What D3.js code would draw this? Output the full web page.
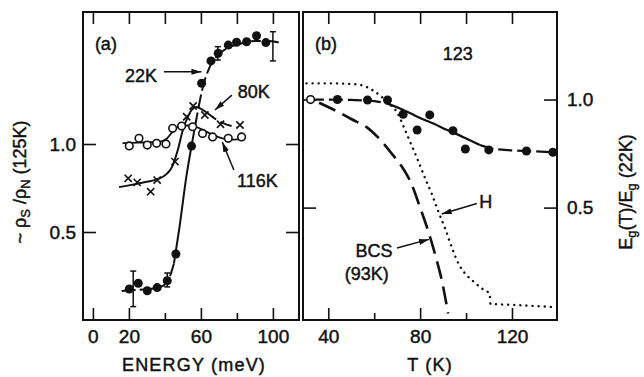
<!DOCTYPE html>
<html>
<head>
<meta charset="utf-8">
<script src="https://cdn.jsdelivr.net/npm/d3@7"></script>
<style>
  body { margin: 0; background: #fff; }
  text { font-family: "Liberation Sans", Arial, sans-serif; fill: #111; stroke: #111; stroke-width: 0.45px; }
</style>
</head>
<body>
<svg id="chart" width="644" height="377"></svg>
<script>
// ---- panel (a): rho_s / rho_n vs energy ----
const a22E = [20.2, 25.2, 30.2, 35.7, 41.3, 46.1, 54.8, 60.4, 65.6, 69.6, 75.2, 79.8, 85.4, 90.9, 96.1];
const a22V = [0.176, 0.209, 0.166, 0.184, 0.223, 0.375, 0.988, 1.345, 1.472, 1.515, 1.562, 1.578, 1.581, 1.615, 1.576];
const a80E = [19.6, 24.6, 32.1, 35.7, 45.6, 52.1, 55.7, 62.2, 70.9, 81.7];
const a80V = [0.805, 0.782, 0.729, 0.795, 0.9, 1.155, 1.216, 1.165, 1.112, 1.108];
const a116E = [20.2, 25.6, 30.2, 35.4, 40.6, 44.3, 49.3, 55.4, 60.9, 66.5, 75.2, 82.6];
const a116V = [0.989, 1.032, 0.994, 1.004, 1.0, 1.089, 1.102, 1.098, 1.06, 1.04, 1.032, 1.04];

// guide curves drawn through the data
const c22E = [16, 22, 30, 38, 42, 45, 48, 52, 55, 58, 61, 65, 70, 76, 82, 90, 97, 104];
const c22V = [0.165, 0.17, 0.175, 0.19, 0.23, 0.32, 0.52, 0.82, 1.0, 1.17, 1.32, 1.44, 1.51, 1.55, 1.57, 1.585, 1.585, 1.575];
const c80E = [14.5, 20, 25, 30, 36, 41, 44, 47, 50, 53, 55, 57.5, 60, 63, 67, 72, 80];
const c80V = [0.755, 0.765, 0.775, 0.785, 0.8, 0.83, 0.87, 0.96, 1.08, 1.16, 1.195, 1.21, 1.2, 1.18, 1.15, 1.12, 1.095];
const c116E = [16.5, 25, 32, 38, 41, 43.5, 46, 50, 55, 59, 63, 67, 71, 76, 82.5];
const c116V = [1.005, 1.008, 1.01, 1.015, 1.03, 1.06, 1.09, 1.105, 1.105, 1.09, 1.07, 1.05, 1.035, 1.025, 1.028];

// error bars
const errE = [22.4, 41.3, 69.4, 100];
const errLo = [0.076, 0.188, 1.477, 1.472];
const errHi = [0.278, 0.267, 1.553, 1.638];

const aTicks = [0, 20, 40, 60, 80, 100];
const aTickLabels = [0, 20, 60, 100];
const aYTicks = [0.5, 1.0];

// ---- panel (b): Eg(T)/Eg(22K) vs T ----
const bOpenT = [32.3];
const bOpenV = [1.0];
const bT = [44, 57.1, 65.8, 72.6, 78.7, 84.2, 94.3, 99.7, 109.9, 126.3, 137.8];
const bV = [1.0, 0.998, 0.998, 0.932, 0.859, 0.929, 0.856, 0.771, 0.767, 0.762, 0.756];
const fitT = [32, 40, 50, 60, 66, 71, 76, 81, 86, 91, 96, 101, 106, 112, 120, 130, 138];
const fitV = [1.0, 1.0, 0.998, 0.993, 0.98, 0.96, 0.935, 0.91, 0.888, 0.862, 0.84, 0.815, 0.79, 0.772, 0.765, 0.76, 0.756];
const bcsT = [36, 42, 50, 57, 63, 68, 72, 76, 80, 84, 87, 89.5, 92.2];
const bcsV = [0.985, 0.955, 0.91, 0.87, 0.81, 0.745, 0.69, 0.615, 0.5, 0.375, 0.265, 0.16, 0.01];
const hT = [30.5, 40, 50, 55, 59, 63, 66, 70, 73, 76, 79, 82, 85, 88, 91, 94, 97, 100, 103, 107, 110.3, 110.6, 124, 138];
const hV = [1.075, 1.075, 1.072, 1.065, 1.045, 1.015, 0.985, 0.94, 0.87, 0.795, 0.72, 0.64, 0.565, 0.48, 0.4, 0.31, 0.235, 0.19, 0.16, 0.125, 0.1, 0.055, 0.048, 0.04];

const bTicks = [40, 60, 80, 100, 120];
const bTickLabels = [40, 80, 120];
const bYTicks = [0.5, 1.0];

const svg = d3.select('#chart');
svg.append('rect').attr('width', 644).attr('height', 377).attr('fill', '#fff');

const xA = d3.scaleLinear().domain([-5.5, 114.5]).range([83, 299]);
const yA = d3.scaleLinear().domain([0, 1.75]).range([320, 12]);
const xB = d3.scaleLinear().domain([29, 139.6]).range([303, 557]);
const yB = d3.scaleLinear().domain([-0.02, 1.405]).range([320, 12]);

svg.append('defs').append('marker')
    .attr('id', 'arrow')
    .attr('viewBox', '0 0 10 6')
    .attr('refX', 10).attr('refY', 3)
    .attr('markerWidth', 10).attr('markerHeight', 6)
    .attr('markerUnits', 'userSpaceOnUse')
    .attr('orient', 'auto')
    .append('path').attr('d', 'M0,0L10,3L0,6Z').attr('fill', '#111');

function styleAxis(g) {
  g.select('.domain').remove();
  g.attr('font-family', '"Liberation Sans", Arial, sans-serif').attr('font-size', 19);
  g.selectAll('.tick line').attr('stroke', '#111').attr('stroke-width', 1.6);
  g.selectAll('.tick text').attr('fill', '#111');
}

function drawFrame(x, y, ticksX, labelsX, ticksY, labelSide) {
  const [x0, x1] = x.range();
  const [y0, y1] = y.range();

  svg.append('g').attr('transform', `translate(0,${y0})`)
      .call(d3.axisBottom(x).tickValues(ticksX).tickSizeInner(-12).tickSizeOuter(0).tickPadding(10)
          .tickFormat(d => labelsX.includes(d) ? d : ''))
      .call(styleAxis)
      .call(g => g.selectAll('.tick line').attr('y2', d => labelsX.includes(d) ? -12 : -7));

  svg.append('g').attr('transform', `translate(0,${y1})`)
      .call(d3.axisTop(x).tickValues(ticksX).tickSizeInner(-12).tickSizeOuter(0).tickFormat(''))
      .call(styleAxis);

  svg.append('g').attr('transform', `translate(${x0},0)`)
      .call(d3.axisLeft(y).tickValues(ticksY).tickSizeInner(-13).tickSizeOuter(0).tickPadding(7)
          .tickFormat(labelSide === 'left' ? d3.format('.1f') : ''))
      .call(styleAxis);

  svg.append('g').attr('transform', `translate(${x1},0)`)
      .call(d3.axisRight(y).tickValues(ticksY).tickSizeInner(-13).tickSizeOuter(0).tickPadding(10)
          .tickFormat(labelSide === 'right' ? d3.format('.1f') : ''))
      .call(styleAxis);

  svg.append('rect')
      .attr('x', x0).attr('y', y1)
      .attr('width', x1 - x0).attr('height', y0 - y1)
      .attr('fill', 'none').attr('stroke', '#111').attr('stroke-width', 2);
}

drawFrame(xA, yA, aTicks, aTickLabels, aYTicks, 'left');
drawFrame(xB, yB, bTicks, bTickLabels, bYTicks, 'right');

function curve(x, y, xs, ys, dash, width) {
  const line = d3.line().x(d => x(d[0])).y(d => y(d[1])).curve(d3.curveMonotoneX);
  svg.append('path')
      .datum(d3.zip(xs, ys))
      .attr('fill', 'none')
      .attr('stroke', '#111')
      .attr('stroke-width', width || 2)
      .attr('stroke-dasharray', dash)
      .attr('stroke-linecap', dash && dash.startsWith('0') ? 'round' : 'butt')
      .attr('d', line);
}

function part(xs, ys, lo, hi) {
  const idx = xs.map((v, i) => i).filter(i => xs[i] >= lo && xs[i] <= hi);
  return [idx.map(i => xs[i]), idx.map(i => ys[i])];
}

// panel (a) curves
curve(xA, yA, ...part(c22E, c22V, 0, 45), '14,4', 2);
curve(xA, yA, ...part(c22E, c22V, 45, 55), null, 2);
curve(xA, yA, ...part(c22E, c22V, 55, 200), '14,4', 2);
curve(xA, yA, ...part(c80E, c80V, 0, 63), null, 2);
curve(xA, yA, ...part(c80E, c80V, 63, 200), '12,5', 2);
curve(xA, yA, c116E, c116V, null, 1.8);

// panel (b) curves
curve(xB, yB, ...part(fitT, fitV, 0, 66), '14,5', 2.2);
curve(xB, yB, ...part(fitT, fitV, 66, 106), null, 2.2);
curve(xB, yB, ...part(fitT, fitV, 106, 200), '14,5', 2.2);
curve(xB, yB, bcsT, bcsV, '18,8', 2.6);
curve(xB, yB, hT, hV, '0.1,6', 2.4);

// error bars
const eb = svg.append('g').attr('stroke', '#111').attr('stroke-width', 1.5);
errE.forEach((e, i) => {
  const x = xA(e);
  eb.append('line').attr('x1', x).attr('x2', x).attr('y1', yA(errLo[i])).attr('y2', yA(errHi[i]));
  [errLo[i], errHi[i]].forEach(v => {
    eb.append('line').attr('x1', x - 3).attr('x2', x + 3).attr('y1', yA(v)).attr('y2', yA(v));
  });
});

// markers
function dots(x, y, xs, ys, open) {
  svg.append('g').selectAll('circle')
      .data(d3.zip(xs, ys))
      .join('circle')
      .attr('cx', d => x(d[0]))
      .attr('cy', d => y(d[1]))
      .attr('r', open ? 3.8 : 4.5)
      .attr('fill', open ? '#fff' : '#111')
      .attr('stroke', '#111')
      .attr('stroke-width', open ? 1.6 : 0);
}

function crosses(x, y, xs, ys) {
  const s = 3.6;
  svg.append('g').selectAll('path')
      .data(d3.zip(xs, ys))
      .join('path')
      .attr('d', d => {
        const cx = x(d[0]), cy = y(d[1]);
        return `M${cx - s},${cy - s}L${cx + s},${cy + s}M${cx - s},${cy + s}L${cx + s},${cy - s}`;
      })
      .attr('stroke', '#111')
      .attr('stroke-width', 1.6);
}

dots(xA, yA, a116E, a116V, true);
crosses(xA, yA, a80E, a80V);
dots(xA, yA, a22E, a22V, false);
dots(xB, yB, bT, bV, false);
dots(xB, yB, bOpenT, bOpenV, true);

// annotations
function label(x, y, px, py, txt, anchor) {
  svg.append('text')
      .attr('x', x(px)).attr('y', y(py))
      .attr('text-anchor', anchor || 'middle')
      .attr('font-size', 18)
      .text(txt);
}
function arrow(x, y, p0, p1) {
  svg.append('line')
      .attr('x1', x(p0[0])).attr('y1', y(p0[1]))
      .attr('x2', x(p1[0])).attr('y2', y(p1[1]))
      .attr('stroke', '#111').attr('stroke-width', 1.5)
      .attr('marker-end', 'url(#arrow)');
}

label(xA, yA, 1.1, 1.534, '(a)', 'start');
label(xA, yA, 26.7, 1.352, '22K');
arrow(xA, yA, [39.5, 1.41], [60.3, 1.41]);
label(xA, yA, 89.4, 1.261, '80K');
arrow(xA, yA, [77.2, 1.278], [67.8, 1.193]);
label(xA, yA, 91.4, 0.756, '116K');
arrow(xA, yA, [78.3, 0.852], [71.9, 1.011]);

label(xB, yB, 34.2, 1.229, '(b)', 'start');
label(xB, yB, 96.4, 1.183, '123');
label(xB, yB, 108.6, 0.498, 'H');
arrow(xB, yB, [104.7, 0.519], [89.4, 0.47]);
label(xB, yB, 59.9, 0.272, 'BCS');
label(xB, yB, 56.8, 0.165, '(93K)');
arrow(xB, yB, [69.9, 0.313], [83.8, 0.353]);

// axis titles
svg.append('text').attr('x', 194).attr('y', 371).attr('text-anchor', 'middle')
    .attr('font-size', 18).attr('letter-spacing', 1.2).text('ENERGY (meV)');
svg.append('text').attr('x', 430).attr('y', 371).attr('text-anchor', 'middle')
    .attr('font-size', 18).attr('letter-spacing', 1.2).text('T (K)');

const yl = svg.append('text')
    .attr('transform', 'translate(26,182) rotate(-90)')
    .attr('text-anchor', 'middle')
    .attr('font-size', 18);
yl.append('tspan').text('~ ρ');
yl.append('tspan').attr('font-size', 13).attr('dy', 4).text('S');
yl.append('tspan').attr('dy', -4).text(' /ρ');
yl.append('tspan').attr('font-size', 13).attr('dy', 4).text('N');
yl.append('tspan').attr('dy', -4).text(' (125K)');

const yr = svg.append('text')
    .attr('transform', 'translate(632,192) rotate(-90)')
    .attr('text-anchor', 'middle')
    .attr('font-size', 18);
yr.append('tspan').text('E');
yr.append('tspan').attr('font-size', 13).attr('dy', 4).text('g');
yr.append('tspan').attr('dy', -4).text('(T)/E');
yr.append('tspan').attr('font-size', 13).attr('dy', 4).text('g');
yr.append('tspan').attr('dy', -4).text(' (22K)');
</script>
</body>
</html>
